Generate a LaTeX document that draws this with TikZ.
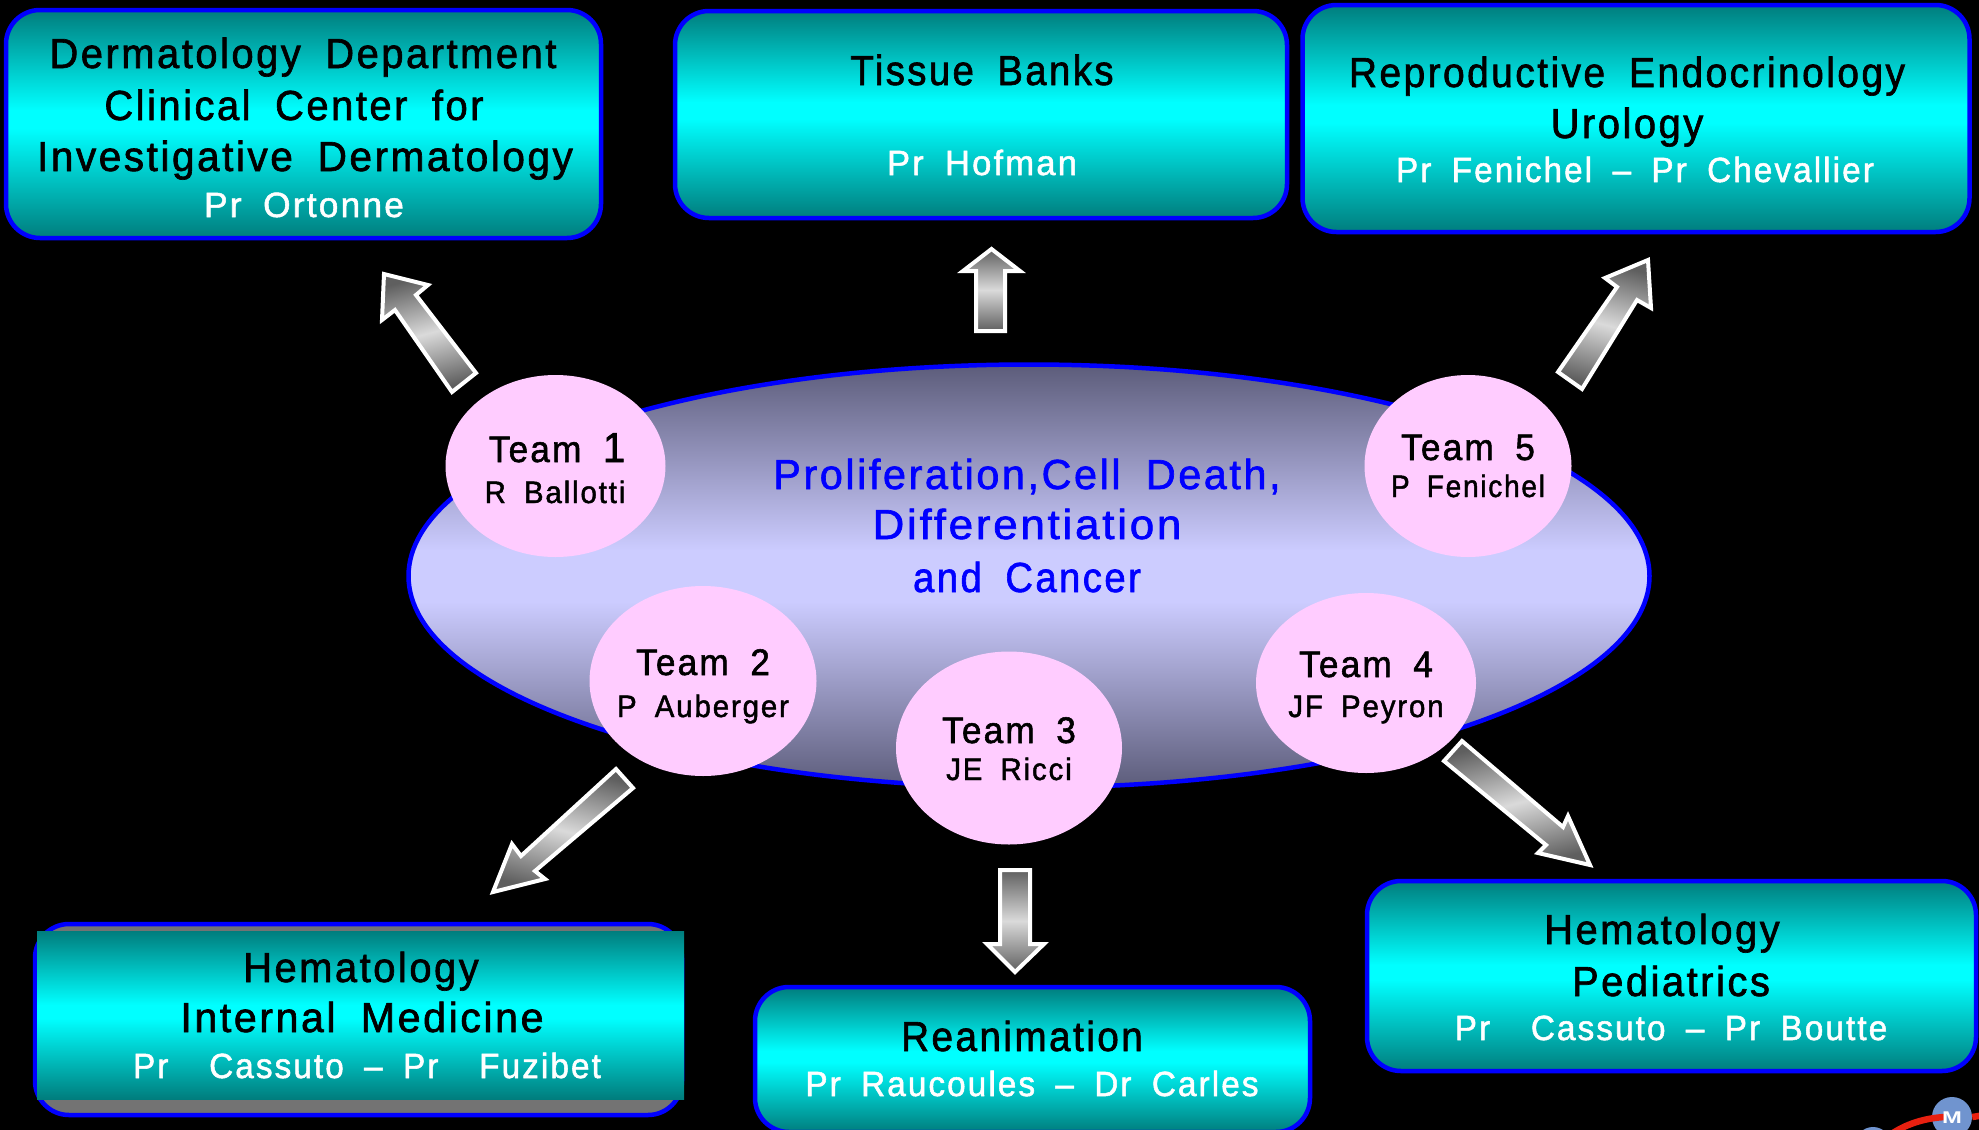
\documentclass[tikz,border=0pt]{standalone}
\usepackage{graphicx}
\usepackage{fontspec}
\usetikzlibrary{shapes.geometric}
\setmainfont{Liberation Sans}
\newfontfamily\labfont[WordSpace=1.8,FakeStretch=0.95,LetterSpace=6,FakeBold=1.5]{Liberation Sans}
\definecolor{tealend}{RGB}{0,125,125}
\definecolor{boxcyan}{RGB}{0,255,255}
\definecolor{ellend}{RGB}{92,92,122}
\definecolor{elllight}{RGB}{204,204,255}
\definecolor{teampink}{RGB}{255,204,255}
\definecolor{bluetext}{RGB}{0,0,255}
\definecolor{arrdark}{RGB}{95,95,95}
\definecolor{arrlight}{RGB}{218,218,218}
\definecolor{logoblue}{RGB}{112,148,207}
\definecolor{logored}{RGB}{232,32,16}
\pgfdeclareverticalshading{boxband}{100bp}{color(0bp)=(tealend);color(25bp)=(tealend);color(49bp)=(boxcyan);color(53bp)=(boxcyan);color(75bp)=(tealend);color(100bp)=(tealend)}
\pgfdeclareverticalshading{ellband}{100bp}{color(0bp)=(ellend);color(25bp)=(ellend);color(47bp)=(elllight);color(53bp)=(elllight);color(75bp)=(ellend);color(100bp)=(ellend)}
\pgfdeclareverticalshading{arrband}{100bp}{color(0bp)=(arrdark);color(25bp)=(arrdark);color(50bp)=(arrlight);color(75bp)=(arrdark);color(100bp)=(arrdark)}
\newcommand{\bigblack}{\fontsize{42}{51}\selectfont\color{black}}
\newcommand{\smallwhite}{\fontsize{35}{46}\selectfont\color{white}}
\newcommand{\sx}[2]{\scalebox{#1}[1]{#2}}
\tikzset{
  x=1pt,y=-1pt,
  deptbox/.style={draw=bluetext,line width=4.5pt,rounded corners=34pt,shading=boxband,minimum width=#1,inner sep=0pt,outer sep=0pt},
  teamcirc/.style={ellipse,fill=teampink,inner sep=0pt,outer sep=0pt},
  blockarrow/.style={draw=white,line width=4pt,miter limit=10,shading=arrband,shading angle=#1},
  linetext/.style={anchor=base,inner sep=0pt,font=\labfont,align=center},
}
\begin{document}
\begin{tikzpicture}
\fill[black] (0,0) rectangle (1979,1130);
\useasboundingbox (0,0) rectangle (1979,1130);
\clip (0,0) rectangle (1979,1130);
% central ellipse
\node[ellipse,draw=bluetext,line width=4.5pt,shading=ellband,minimum width=1241pt,minimum height=423pt,inner sep=0pt,outer sep=0pt] (core) at (1029,576) {};
% block arrows
\draw[blockarrow=15] (384,274) -- (428,285) -- (416,295) -- (476,373) -- (452,392) -- (395,310) -- (382,320) -- cycle;
\draw[blockarrow=0] (991.5,249) -- (1020,271) -- (1005,271) -- (1005,331) -- (976,331) -- (976,271) -- (963,271) -- cycle;
\draw[blockarrow=-15] (1648,260) -- (1651,308) -- (1637,300) -- (1582,389) -- (1558,372) -- (1617,287) -- (1605,278) -- cycle;
\draw[blockarrow=-15] (493,892) -- (512,844) -- (521,856) -- (616,769) -- (633,788) -- (535,871) -- (545,879) -- cycle;
\draw[blockarrow=0] (1015,972) -- (1044,944) -- (1030,944) -- (1030,870) -- (1000,870) -- (1000,944) -- (987,944) -- cycle;
\draw[blockarrow=15] (1590,865) -- (1568,816) -- (1563,827) -- (1462,741) -- (1444,761) -- (1546,845) -- (1538,853) -- cycle;
% team circles
\node[teamcirc,minimum width=220pt,minimum height=182pt] (team1) at (555.5,466) {};
\node[teamcirc,minimum width=227pt,minimum height=190pt] (team2) at (703,681) {};
\node[teamcirc,minimum width=226pt,minimum height=193pt] (team3) at (1009,748) {};
\node[teamcirc,minimum width=220pt,minimum height=180pt] (team4) at (1366,683) {};
\node[teamcirc,minimum width=207pt,minimum height=182pt] (team5) at (1468,466) {};
% department boxes
\node[deptbox=595pt,minimum height=228pt] (derm) at (303.5,124) {};
\node[deptbox=612pt,minimum height=207pt] (tissue) at (981,114.5) {};
\node[deptbox=667pt,minimum height=227pt] (repro) at (1636,118.5) {};
\draw[bluetext,fill=gray!90!black,line width=4.5pt,rounded corners=34pt] (35,924) rectangle (682,1115);
\node[rectangle,shading=boxband,minimum width=647pt,minimum height=168pt,inner sep=0pt,outer sep=0pt] (intern) at (360.5,1015) {};
\node[deptbox=555pt,minimum height=145pt] (rean) at (1032.5,1059.5) {};
\node[deptbox=609pt,minimum height=190pt] (ped) at (1671.5,976) {};
% logo
\node[circle,fill=logoblue,minimum size=40pt,inner sep=0pt] (logoM) at (1952,1117) {};
\node[circle,fill=logoblue,minimum size=36pt,inner sep=0pt] (logoL) at (1873,1145) {};
\coordinate (logoEnd) at (1985,1115);
\coordinate (logoJoin) at (1945,1117);
\draw[logored,line width=6.5pt] (logoL.30) .. controls (1905,1124) and (1925,1118) .. (logoJoin);
\draw[logored,line width=6.5pt] (logoM.east) -- (logoEnd);
\node[text=white,font=\bfseries\fontsize{17}{17}\selectfont,inner sep=0pt] (logoText) at (1952,1118) {\scalebox{1.4}[1]{M}};
% department text
\node[linetext] (t1a) at (303,68) {\bigblack Dermatology Department};
\node[linetext] (t1b) at (294,120) {\bigblack Clinical Center for};
\node[linetext] (t1c) at (305,171) {\bigblack \sx{1.015}{Investigative Dermatology}};
\node[linetext] (t1d) at (304,217) {\smallwhite \sx{1.06}{Pr Ortonne}};
\node[linetext] (t2a) at (982,85) {\bigblack \sx{0.96}{Tissue Banks}};
\node[linetext] (t2b) at (982,175) {\smallwhite \sx{1.04}{Pr Hofman}};
\node[linetext] (t3a) at (1627,87) {\bigblack \sx{0.975}{Reproductive Endocrinology}};
\node[linetext] (t3b) at (1627,138) {\bigblack Urology};
\node[linetext] (t3c) at (1635,182) {\smallwhite Pr Fenichel – Pr Chevallier};
\node[linetext] (t4a) at (361,982) {\bigblack Hematology};
\node[linetext] (t4b) at (362,1032) {\bigblack \sx{1.03}{Internal Medicine}};
\node[linetext] (t4c) at (367,1078) {\smallwhite Pr\ \ Cassuto – Pr\ \ Fuzibet};
\node[linetext] (t5a) at (1022,1051) {\bigblack \sx{0.97}{Reanimation}};
\node[linetext] (t5b) at (1032,1096) {\smallwhite Pr Raucoules – Dr Carles};
\node[linetext] (t6a) at (1662,944) {\bigblack Hematology};
\node[linetext] (t6b) at (1671,996) {\bigblack Pediatrics};
\node[linetext] (t6c) at (1671,1040) {\smallwhite Pr\ \ Cassuto – Pr Boutte};
% central text
\node[linetext,text=bluetext] (c1) at (1027,489) {\fontsize{42}{51}\selectfont \sx{1.035}{Proliferation,Cell Death,}};
\node[linetext,text=bluetext] (c2) at (1027,539) {\fontsize{42}{51}\selectfont \sx{1.1}{Differentiation}};
\node[linetext,text=bluetext] (c3) at (1027,592) {\fontsize{42}{51}\selectfont \sx{0.96}{and Cancer}};
% team text
\node[linetext] (n1a) at (557,462) {\fontsize{37}{40}\selectfont Team {\fontsize{42}{40}\selectfont 1}};
\node[linetext] (n1b) at (555,503) {\fontsize{31}{36}\selectfont R Ballotti};
\node[linetext] (n2a) at (703,675) {\fontsize{37}{40}\selectfont Team 2};
\node[linetext] (n2b) at (703,717) {\fontsize{31}{36}\selectfont P Auberger};
\node[linetext] (n3a) at (1009,743) {\fontsize{37}{40}\selectfont Team 3};
\node[linetext] (n3b) at (1009,780) {\fontsize{31}{36}\selectfont JE Ricci};
\node[linetext] (n4a) at (1366,677) {\fontsize{37}{40}\selectfont Team 4};
\node[linetext] (n4b) at (1366,717) {\fontsize{31}{36}\selectfont JF Peyron};
\node[linetext] (n5a) at (1468,460) {\fontsize{37}{40}\selectfont Team 5};
\node[linetext] (n5b) at (1468,497) {\fontsize{31}{36}\selectfont \sx{0.95}{P Fenichel}};
\end{tikzpicture}
\end{document}
